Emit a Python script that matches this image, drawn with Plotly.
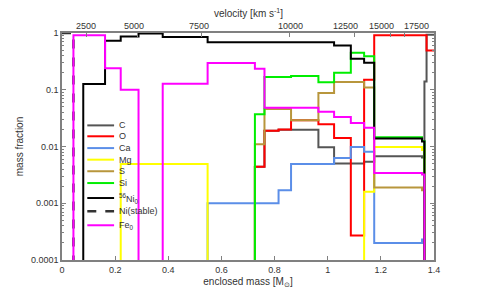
import plotly.graph_objects as go

L = 1e-6  # below axis floor (absent)
# zone edges in enclosed mass [Msun]
edges = [0.0, 0.043, 0.080, 0.162, 0.221, 0.288, 0.379, 0.548, 0.726, 0.762, 0.815,
         0.862, 0.965, 1.024, 1.087, 1.137, 1.175, 1.355, 1.364, 1.372, 1.40]

C = [L, L, L, L, L, L, L, L, 0.0044, 0.019, 0.0197, 0.0197, 0.0097, 0.005, 0.005, 0.0054, 0.0067, 0.0064, 0.14, 0.93]
O = [L, L, L, L, L, L, L, L, 0.0044, 0.019, 0.020, 0.029, 0.0247, 0.0141, 0.00027, 0.150, 0.91, 0.91, 0.91, 0.49]
Ca = [L, L, L, L, L, L, L, 0.001, 0.001, 0.001, 0.0017, 0.0049, 0.0049, 0.0063, 0.0098, 0.0081, 0.0002, 0.00023, L, L]
Mg = [L, L, L, L, 0.0049, 0.0049, 0.0049, L, L, L, L, L, L, L, L, 0.0016, 0.0098, 0.0087, L, L]
S = [L, L, L, L, L, L, L, L, 0.011, 0.046, 0.046, 0.029, 0.088, 0.137, 0.137, 0.110, 0.0019, 0.0017, L, L]
Si = [L, L, L, L, L, L, L, L, 0.037, 0.168, 0.168, 0.174, 0.135, 0.20, 0.45, 0.39, 0.0145, 0.0125, L, L]
Ni56 = [L, L, 0.126, 0.73, 0.87, 0.98, 0.85, 0.69, 0.69, 0.69, 0.69, 0.69, 0.69, 0.60, 0.35, 0.30, 0.0139, 0.0123, L, L]
Ni_stable = [1.0, L, L, L, L, L, L, L, L, L, L, L, L, L, L, L, L, L, L, L]
Fe0 = [L, 0.91, 0.91, 0.24, 0.10, L, 0.127, 0.296, 0.235, 0.048, 0.048, 0.048, 0.041, 0.033, 0.026, 0.0215, 0.0034, 0.0032, L, L]

series_names = ["C", "O", "Ca", "Mg", "S", "Si", "<sup>56</sup>Ni<sub>0</sub>", "Ni(stable)", "Fe<sub>0</sub>"]
series_vals = [C, O, Ca, Mg, S, Si, Ni56, Ni_stable, Fe0]

# top axis: velocity [km/s] at enclosed-mass positions
vel_labels = ["2500", "5000", "7500", "10000", "12500", "15000", "17500"]
vel_tick_mass = [0.093, 0.283, 0.526, 0.858, 1.099, 1.237, 1.288]
vel_label_mass = [0.090, 0.271, 0.516, 0.859, 1.066, 1.202, 1.335]

x_ticks = [0, 0.2, 0.4, 0.6, 0.8, 1.0, 1.2, 1.4]
x_ticktext = ["0", "0.2", "0.4", "0.6", "0.8", "1", "1.2", "1.4"]
y_ticks = [1e-4, 1e-3, 1e-2, 1e-1, 1]
y_ticktext = ["0.0001", "0.001", "0.01", "0.1", "1"]

colors = ["#555555", "#ff0000", "#5b8ee8", "#ffff00", "#b8963c", "#00ee00", "#000000", "#333333", "#ff00ff"]
widths = [2, 2, 2, 2, 2, 2, 2, 2.5, 2]
dashes = ["solid"] * 7 + ["dash", "solid"]

AX = "#808080"
TXT = "#333333"
FONT = "Liberation Sans, Arial, sans-serif"

fig = go.Figure()
for name, vals, col, w, d in zip(series_names, series_vals, colors, widths, dashes):
    fig.add_trace(go.Scatter(
        x=edges, y=vals + [vals[-1]], mode="lines", line_shape="hv",
        line=dict(color=col, width=w, dash=d), name=name, showlegend=False,
        xaxis="x", yaxis="y"))

# invisible trace to activate the top axis
fig.add_trace(go.Scatter(x=[0, 1.4], y=[1e-6, 1e-6], mode="lines", line=dict(width=0),
                         xaxis="x2", yaxis="y", showlegend=False, hoverinfo="skip"))

minor_y = [m * 10 ** e for e in range(-4, 0) for m in range(2, 10)]

fig.update_layout(
    width=479, height=293,
    margin=dict(l=62, r=45, t=33, b=33),
    paper_bgcolor="white", plot_bgcolor="white",
    font=dict(family=FONT, size=9, color=TXT),
    xaxis=dict(range=[0, 1.4], tickvals=x_ticks, ticktext=x_ticktext, ticks="inside",
               ticklen=4, tickcolor=AX, showline=True, linecolor=AX, linewidth=1.5,
               mirror=True, showgrid=False, zeroline=False,
               title=dict(text="enclosed mass [M<sub>⊙</sub>]", font=dict(size=10, color=TXT), standoff=4),
               automargin=False),
    xaxis2=dict(range=[0, 1.4], overlaying="x", side="top", tickvals=vel_tick_mass,
                showticklabels=False, ticks="inside", ticklen=4, tickcolor=AX,
                showgrid=False, zeroline=False, showline=False, automargin=False),
    yaxis=dict(type="log", range=[-4, 0], tickvals=y_ticks, ticktext=y_ticktext,
               ticks="inside", ticklen=4, tickcolor=AX, showline=True, linecolor=AX,
               linewidth=1.5, mirror="ticks", showgrid=False, zeroline=False,
               minor=dict(tickvals=minor_y, ticks="inside", ticklen=2, tickcolor=AX, showgrid=False),
               title=dict(text="mass fraction", font=dict(size=10, color=TXT), standoff=5),
               automargin=False),
)

# velocity tick labels and title
for lab, xm in zip(vel_labels, vel_label_mass):
    fig.add_annotation(x=xm, y=1, xref="x", yref="paper", text=lab, showarrow=False,
                       yanchor="bottom", yshift=0, font=dict(size=9, color=TXT))
fig.add_annotation(x=0.5, y=1, xref="paper", yref="paper", text="velocity [km s<sup>-1</sup>]",
                   showarrow=False, yanchor="bottom", yshift=12, font=dict(size=10, color=TXT))

# compact legend
leg_y = [0.593, 0.545, 0.493, 0.442, 0.391, 0.339, 0.273, 0.215, 0.153]
for name, col, w, d, yy in zip(series_names, colors, widths, dashes, leg_y):
    fig.add_shape(type="line", xref="paper", yref="paper", x0=0.068, x1=0.140, y0=yy, y1=yy,
                  line=dict(color=col, width=w, dash=d))
    fig.add_annotation(x=0.149, y=yy, xref="paper", yref="paper", text=name, showarrow=False,
                       xanchor="left", yanchor="middle", font=dict(size=9, color=TXT))

fig.write_html("out.html", config={"displayModeBar": False},
               post_script="document.body.style.margin='0';document.body.style.overflow='hidden';")
